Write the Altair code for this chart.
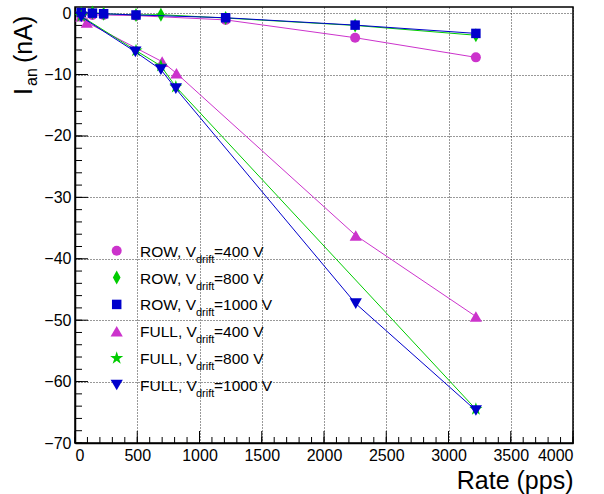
import altair as alt
import pandas as pd

# Anode current vs. rate for ROW / FULL irradiation at three drift voltages
series_keys = ["ROW400", "ROW800", "ROW1000", "FULL400", "FULL800", "FULL1000"]
label_prefix = ["ROW, V", "ROW, V", "ROW, V", "FULL, V", "FULL, V", "FULL, V"]
label_suffix = ["=400 V", "=800 V", "=1000 V", "=400 V", "=800 V", "=1000 V"]
colors = ["#cc33cc", "#00cc00", "#0000cc", "#cc33cc", "#00cc00", "#0000cc"]

diamond = "M0,-1L0.55,0L0,1L-0.55,0Z"
star = ("M0,-1L0.2245,-0.309L0.951,-0.309L0.363,0.118L0.588,0.809L0,0.382"
        "L-0.588,0.809L-0.363,0.118L-0.951,-0.309L-0.2245,-0.309Z")
shapes = ["circle", diamond, "square", "triangle-up", star, "triangle-down"]
sizes = [100, 196, 90, 150, 190, 150]

rate_row400 = [50, 140, 230, 490, 1210, 2250, 3220]
cur_row400 = [-0.3, -0.3, -0.3, -0.4, -1.1, -4.0, -7.2]
rate_row800 = [50, 140, 230, 490, 690, 1210, 2250, 3220]
cur_row800 = [0.0, 0.1, -0.1, -0.3, -0.25, -0.8, -2.0, -3.6]
rate_row1000 = [50, 140, 230, 490, 1210, 2250, 3220]
cur_row1000 = [0.1, 0.0, -0.1, -0.3, -0.75, -1.95, -3.3]
rate_full400 = [50, 95, 700, 815, 2255, 3220]
cur_full400 = [-0.5, -1.5, -7.9, -9.8, -36.2, -49.4]
rate_full800 = [50, 490, 690, 810, 3220]
cur_full800 = [-0.5, -6.1, -8.6, -12.0, -64.5]
rate_full1000 = [50, 485, 690, 810, 2255, 3220]
cur_full1000 = [-0.6, -6.3, -9.2, -12.3, -47.3, -64.7]

x_major = [0, 500, 1000, 1500, 2000, 2500, 3000, 3500, 4000]
x_minor = list(range(0, 4001, 100))
y_major = [-70, -60, -50, -40, -30, -20, -10, 0]
y_minor = list(range(-70, 1, 2))

rates = [rate_row400, rate_row800, rate_row1000, rate_full400, rate_full800, rate_full1000]
currents = [cur_row400, cur_row800, cur_row1000, cur_full400, cur_full800, cur_full1000]

W, H = 498, 436
FONT = "Liberation Sans"

xs = alt.Scale(domain=[0, 4000], nice=False, zero=False)
ys = alt.Scale(domain=[-70, 1], nice=False, zero=False)

x_axis = alt.Axis(
    values=x_major, format="d", title="Rate (pps)", titleFontSize=25,
    titleFontWeight="normal", titleAnchor="end", titleAlign="right",
    titleX=W, titleY=45, titleBaseline="alphabetic",
    labelFontSize=16, labelPadding=4, ticks=False,
    grid=True, gridDash=[1, 2], gridColor="#000", gridOpacity=0.8,
    domainColor="black", domainWidth=1.5, labelColor="black", titleColor="black",
)
y_axis = alt.Axis(
    values=y_major, format="d", title=None,
    labelFontSize=16, labelPadding=4, ticks=False,
    grid=True, gridDash=[1, 2], gridColor="#000", gridOpacity=0.8,
    domainColor="black", domainWidth=1.5, labelColor="black",
)

# inward ROOT-style ticks (first layer carries the axes)
xmin = alt.Chart(pd.DataFrame({"v": x_minor})).mark_rule(color="black").encode(
    x=alt.X("v:Q", scale=xs, axis=x_axis), y=alt.value(H), y2=alt.value(H - 6))
xmaj = alt.Chart(pd.DataFrame({"v": x_major})).mark_rule(color="black").encode(
    x=alt.X("v:Q", scale=xs), y=alt.value(H), y2=alt.value(H - 12))
ymin = alt.Chart(pd.DataFrame({"v": y_minor})).mark_rule(color="black").encode(
    y=alt.Y("v:Q", scale=ys, axis=y_axis), x=alt.value(0), x2=alt.value(7))
ymaj = alt.Chart(pd.DataFrame({"v": y_major})).mark_rule(color="black").encode(
    y=alt.Y("v:Q", scale=ys), x=alt.value(0), x2=alt.value(13))

layers = [xmin, xmaj, ymin, ymaj]
for k in range(len(series_keys)):
    d = pd.DataFrame({"rate": rates[k], "current": currents[k]})
    base = alt.Chart(d).encode(x=alt.X("rate:Q", scale=xs), y=alt.Y("current:Q", scale=ys))
    layers.append(base.mark_line(strokeWidth=1, color=colors[k]))
    layers.append(base.mark_point(filled=True, opacity=1, shape=shapes[k],
                                  size=sizes[k], color=colors[k]))
plot = alt.layer(*layers)

# legend block
leg = pd.DataFrame({
    "idx": list(range(len(series_keys))),
    "prefix": label_prefix,
    "sub": ["drift"] * len(series_keys),
    "suffix": label_suffix,
})
ly = alt.Y("idx:Q", scale=alt.Scale(domain=[0, 5], range=[243.7, 378]), axis=None)
leg_layers = []
for k in range(len(series_keys)):
    leg_layers.append(
        alt.Chart(leg[leg["idx"] == k]).mark_point(
            filled=True, opacity=1, shape=shapes[k], size=sizes[k], color=colors[k]
        ).encode(x=alt.value(41.7), y=ly)
    )
leg_layers.append(alt.Chart(leg).mark_text(align="left", baseline="alphabetic", dy=6,
                                           fontSize=15.5, font=FONT, color="black").encode(
    x=alt.value(65), y=ly, text="prefix:N"))
leg_layers.append(alt.Chart(leg).mark_text(align="left", baseline="alphabetic", dy=12,
                                           fontSize=11, font=FONT, color="black").encode(
    x=alt.value(121), y=ly, text="sub:N"))
leg_layers.append(alt.Chart(leg).mark_text(align="left", baseline="alphabetic", dy=6,
                                           fontSize=15.5, font=FONT, color="black").encode(
    x=alt.value(139), y=ly, text="suffix:N"))

# rotated y title with subscript
one = pd.DataFrame({"a": [0]})
leg_layers.append(alt.Chart(one).mark_text(text="I", angle=270, align="left", baseline="alphabetic",
                                           fontSize=25, font=FONT, color="black").encode(
    x=alt.value(-43), y=alt.value(88)))
leg_layers.append(alt.Chart(one).mark_text(text="an", angle=270, align="left", baseline="alphabetic",
                                           fontSize=16, font=FONT, color="black").encode(
    x=alt.value(-38), y=alt.value(79)))
leg_layers.append(alt.Chart(one).mark_text(text="(nA)", angle=270, align="left", baseline="alphabetic",
                                           fontSize=25, font=FONT, color="black").encode(
    x=alt.value(-43), y=alt.value(56)))

overlay = alt.layer(*leg_layers)

chart = alt.layer(plot, overlay).resolve_scale(x="independent", y="independent").properties(
    width=W, height=H,
    padding={"left": 75, "top": 7, "right": 31, "bottom": 51},
    autosize=alt.AutoSizeParams(type="none"),
).configure(font=FONT).configure_view(stroke="black", strokeWidth=1.5)

chart.save("out.html", embed_options={"renderer": "svg", "actions": False})
